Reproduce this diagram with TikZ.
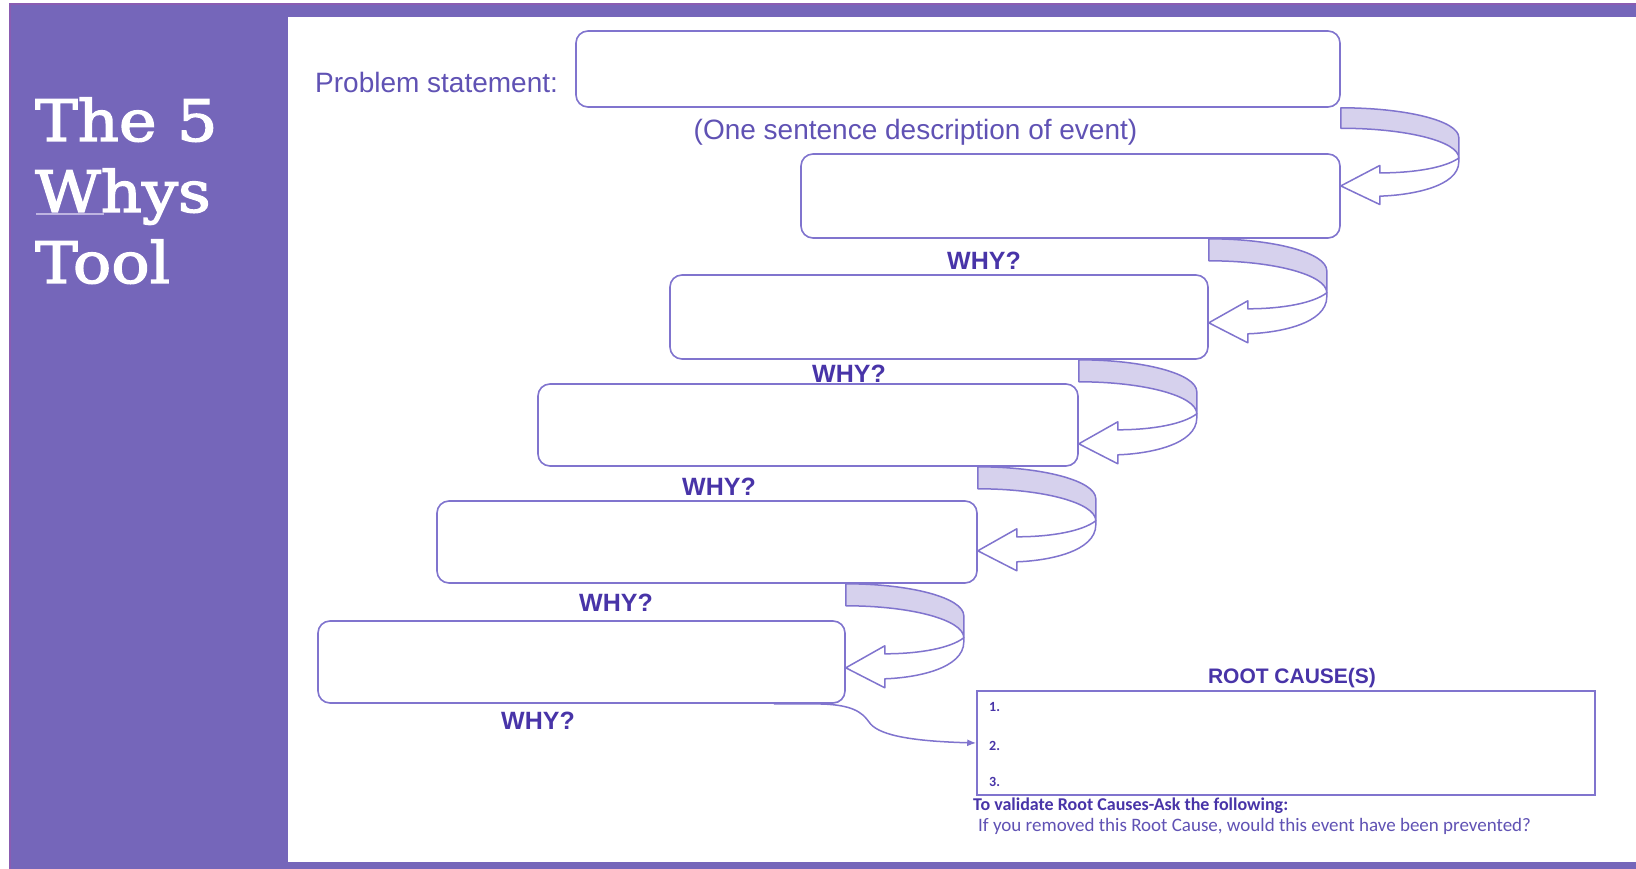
\documentclass[tikz,border=0pt]{standalone}
\usepackage{fontspec}
\setmainfont{Liberation Sans}
\newfontfamily\titlefont[FakeStretch=1.12,FakeBold=2.5]{DejaVu Serif}
\newfontfamily\calfont{Carlito}
\usetikzlibrary{calc,arrows.meta}
\definecolor{bgpurple}{RGB}{117,102,186}
\definecolor{edgepurple}{RGB}{138,92,178}
\definecolor{boxline}{RGB}{128,116,206}
\definecolor{bandfill}{RGB}{214,209,237}
\definecolor{txtpurple}{RGB}{96,82,180}
\definecolor{whypurple}{RGB}{72,52,168}
\definecolor{ulc}{RGB}{190,180,225}
\tikzset{
  wbox/.style={draw=boxline, line width=1.6pt, rounded corners=12pt, fill=white, inner sep=0pt},
  rcbox/.style={draw=boxline, line width=1.6pt, fill=white, inner sep=0pt},
  arrowline/.style={draw=boxline, line width=1.5pt, line join=round},
  lbl/.style={text=txtpurple, inner sep=0pt, font=\fontsize{28}{32}\selectfont},
  whylbl/.style={text=whypurple, inner sep=0pt, font=\bfseries\fontsize{25}{28}\selectfont},
  titlelbl/.style={text=white, inner sep=0pt, anchor=base west, font=\titlefont\fontsize{57}{66}\selectfont},
  numlbl/.style={text=whypurple, inner sep=0pt, anchor=west, font=\calfont\bfseries\fontsize{14}{16}\selectfont},
  conn/.style={draw=boxline, line width=1.5pt, -{Latex[length=9pt,width=7pt]}}
}
\newcommand\whyarrow[3][1]{%
  \begin{scope}[shift={(#3.east |- #2.south)}, yscale=#1]
    \filldraw[arrowline, fill=bandfill] (0,0) .. controls (65,0) and (118,14) .. (118,32)
      -- (118,54) .. controls (118,36) and (65,22) .. (0,22) -- cycle;
    \filldraw[arrowline, fill=white] (118,54) .. controls (105,64) and (75,70) .. (39,70)
      -- (39,62) -- (0,84) -- (39,104) -- (39,95)
      .. controls (70,94) and (118,85) .. (118,58) -- cycle;
  \end{scope}}
\begin{document}
\begin{tikzpicture}[x=1pt, y=-1pt]
  \useasboundingbox (0,0) rectangle (1636,869);
  \fill[white] (0,0) rectangle (1636,869);
  \fill[bgpurple] (9,3) rectangle (1636,869);
  \draw[edgepurple, line width=2pt] (10,869) -- (10,4) -- (1636,4);
  \fill[white] (288,17) rectangle (1636,862);

  % title
  \node[titlelbl] (t1) at (35,141) {The 5};
  \node[titlelbl] (t2) at (35,212) {Whys};
  \node[titlelbl] (t3) at (35,283) {Tool};
  \draw[ulc, line width=2.5pt] (36,214) -- (104,214);

  % boxes
  \node[wbox, minimum width=764pt, minimum height=76pt] (b0) at (958,69) {};
  \node[wbox, minimum width=539pt, minimum height=84pt] (b1) at (1070.5,196) {};
  \node[wbox, minimum width=538pt, minimum height=84pt] (b2) at (939,317) {};
  \node[wbox, minimum width=540pt, minimum height=82pt] (b3) at (808,425) {};
  \node[wbox, minimum width=540pt, minimum height=82pt] (b4) at (707,542) {};
  \node[wbox, minimum width=527pt, minimum height=82pt] (b5) at (581.5,662) {};

  % curved arrows
  \whyarrow[0.93]{b0}{b1}
  \whyarrow{b1}{b2}
  \whyarrow{b2}{b3}
  \whyarrow{b3}{b4}
  \whyarrow{b4}{b5}

  % labels
  \node[lbl, anchor=west] (ps) at (315,82) {Problem statement:};
  \node[lbl] (desc) at (915.5,132) {(One sentence description of event)};
  \node[whylbl] (w1) at (984,261) {WHY?};
  \node[whylbl] (w2) at (849,374) {WHY?};
  \node[whylbl] (w3) at (719,487) {WHY?};
  \node[whylbl] (w4) at (616,603) {WHY?};
  \node[whylbl] (w5) at (538,721) {WHY?};

  % root cause box
  \node[rcbox, minimum width=618pt, minimum height=104pt] (rc) at (1286,743) {};
  \node[whylbl, font=\bfseries\fontsize{21}{24}\selectfont] (rch) at (1292,678) {ROOT CAUSE(S)};
  \node[numlbl] (n1) at (989,707) {1.};
  \node[numlbl] (n2) at (989,746) {2.};
  \node[numlbl] (n3) at (989,782) {3.};
  \node[numlbl, font=\calfont\bfseries\fontsize{18}{21}\selectfont] (val) at (973,806) {To validate Root Causes-Ask the following:};
  \node[numlbl, text=txtpurple, font=\calfont\fontsize{19}{22}\selectfont] (q) at (978,826) {If you removed this Root Cause, would this event have been prevented?};

  % connector
  \coordinate (c5) at ($(b5.south east)+(-72,0)$);
  \draw[conn] (c5) -- (822,704) .. controls (852,705) and (862,712) .. (869,722)
     .. controls (877,734) and (905,741) .. (rc.west);
\end{tikzpicture}
\end{document}
